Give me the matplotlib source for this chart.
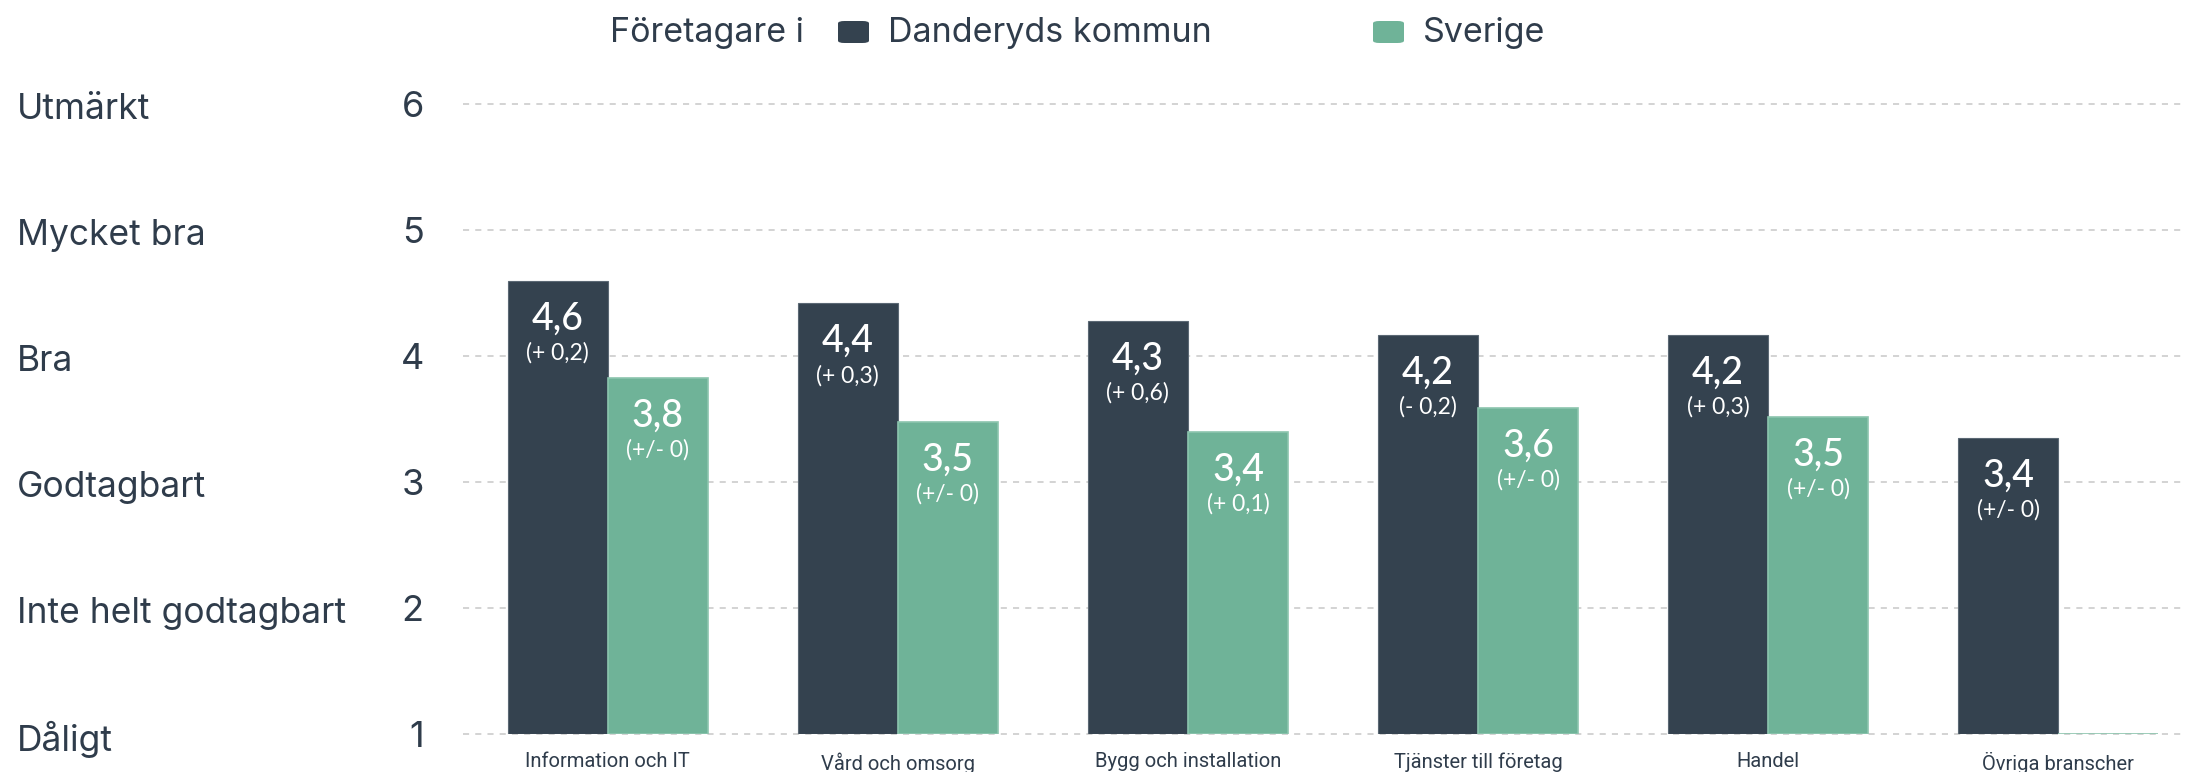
import matplotlib
matplotlib.use("Agg")
import matplotlib.pyplot as plt
from matplotlib.patches import FancyBboxPatch
import matplotlib.transforms as mtransforms
import numpy as np

categories = ["Information och IT", "Vård och omsorg", "Bygg och installation",
              "Tjänster till företag", "Handel", "Övriga branscher"]
danderyd = [4.60, 4.42, 4.28, 4.17, 4.17, 3.35]
sverige = [3.83, 3.48, 3.40, 3.59, 3.52, 1.00]
danderyd_labels = ["4,6", "4,4", "4,3", "4,2", "4,2", "3,4"]
danderyd_change = ["(+ 0,2)", "(+ 0,3)", "(+ 0,6)", "(- 0,2)", "(+ 0,3)", "(+/- 0)"]
sverige_labels = ["3,8", "3,5", "3,4", "3,6", "3,5", ""]
sverige_change = ["(+/- 0)", "(+/- 0)", "(+ 0,1)", "(+/- 0)", "(+/- 0)", ""]
y_ticks = [1, 2, 3, 4, 5, 6]
y_names = ["Dåligt", "Inte helt godtagbart", "Godtagbart", "Bra", "Mycket bra", "Utmärkt"]
series_names = ["Danderyds kommun", "Sverige"]
legend_title = "Företagare i"

DARK = "#34424f"
GREEN = "#6fb398"
TEXT = "#2f3c4b"

W, H = 2185, 772
fig = plt.figure(figsize=(W / 100, H / 100), dpi=100)
fig.patch.set_facecolor("white")

ax = fig.add_axes([462.7 / W, 38 / H, 1 - 462.7 / W, (734 - 104.5) / H])
x = np.arange(len(categories))
bw = 0.345
base = 1

b1 = ax.bar(x - bw / 2, np.array(danderyd) - base, bw, bottom=base, color=DARK,
            edgecolor="#5b6874", linewidth=0.8, zorder=3)
b2 = ax.bar(x + bw / 2, np.array(sverige) - base, bw, bottom=base, color=GREEN,
            edgecolor="#8cc5ae", linewidth=1.2, zorder=3)

ax.set_xlim(-0.5, 5.437)
ax.set_ylim(1, 6)
ax.set_yticks(y_ticks)
ax.set_yticklabels([str(v) for v in y_ticks], fontsize=26, color=TEXT, family="Inter")
ax.tick_params(axis="y", length=0, pad=28)
ax.set_xticks(x)
ax.set_xticklabels(categories, fontsize=14.5, color=TEXT, family="Roboto")
ax.tick_params(axis="x", length=0, pad=13)
for s in ax.spines.values():
    s.set_visible(False)
ax.yaxis.grid(True, linestyle=(0, (4, 4)), color="#c8c8c8", linewidth=1.1, zorder=0)
ax.set_axisbelow(True)
for gl in ax.get_ygridlines():
    gl.set_clip_on(False)

name_tr = mtransforms.blended_transform_factory(fig.transFigure, ax.transData) + \
    mtransforms.ScaledTranslation(0, -5 / 100, fig.dpi_scale_trans)
for yv, name in zip(y_ticks, y_names):
    ax.text(17 / W, yv, name, transform=name_tr,
            ha="left", va="center", fontsize=25.5, color=TEXT, family="Inter")

def put_labels(bars, vals, labs, chs):
    for bar, v, lab, ch in zip(bars, vals, labs, chs):
        cx = bar.get_x() + bar.get_width() / 2
        if lab:
            ax.annotate(lab, (cx, v), xytext=(0, -38), textcoords="offset pixels",
                        ha="center", va="center", fontsize=27, color="white",
                        family="Lato", fontweight="medium", zorder=5)
        if ch:
            ax.annotate(ch, (cx, v), xytext=(0, -72), textcoords="offset pixels",
                        ha="center", va="center", fontsize=16.5, color="white",
                        family="Lato", zorder=5)

put_labels(b1, danderyd, danderyd_labels, danderyd_change)
put_labels(b2, sverige, sverige_labels, sverige_change)

# legend
ly = (H - 33) / H
fig.text(610 / W, ly, legend_title, ha="left", va="center", fontsize=24.5,
         color=TEXT, family="Inter")
for sx, col, name in [(838, DARK, series_names[0]), (1373, GREEN, series_names[1])]:
    p = FancyBboxPatch((sx / W, (H - 43) / H), 31 / W, 22 / H,
                       boxstyle="round,pad=0,rounding_size=0.003",
                       transform=fig.transFigure, facecolor=col, edgecolor="none")
    fig.patches.append(p)
    fig.text((sx + 50) / W, ly, name, ha="left", va="center", fontsize=24.5,
             color=TEXT, family="Inter")

fig.savefig("out.png", dpi=100)
